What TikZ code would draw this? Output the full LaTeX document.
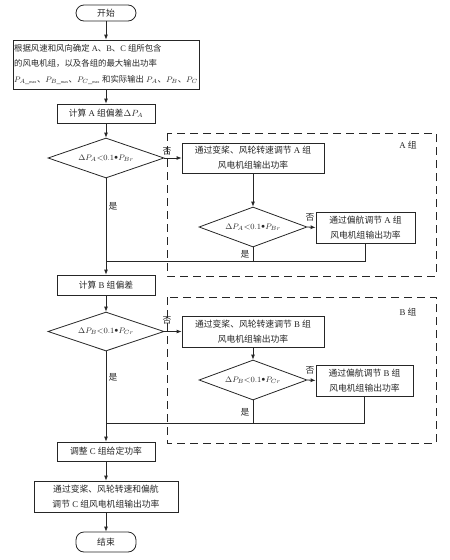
\documentclass[tikz,border=0pt]{standalone}
\usepackage{fontspec}
\setmainfont{Liberation Serif}
\newfontfamily\cjk{Noto Sans CJK SC}
\usetikzlibrary{shapes.geometric,arrows.meta}
\newcommand\zh[1]{{\cjk #1}}
\newcommand\mx{\scriptscriptstyle\_\mathrm{max}}
\begin{document}
\begin{tikzpicture}[x=1pt,y=-1pt,
  every node/.style={font=\fontsize{8.8}{15}\selectfont, text=black!85},
  box/.style={draw=black!85, line width=0.8pt, inner sep=1pt, align=center},
  term/.style={box, rounded corners=8pt},
  dec/.style={draw=black!85, line width=0.8pt, diamond, inner sep=0pt, aspect=2.8, font=\fontsize{8.3}{10}\selectfont},
  lbl/.style={inner sep=0pt},
  con/.style={draw=black!85, line width=0.8pt},
  arr/.style={con, -{Latex[length=5pt,width=4pt]}},
  grp/.style={draw=black!85, line width=0.8pt, dash pattern=on 8pt off 5pt}]
\useasboundingbox (0,0) rectangle (450,560);
% groups
\draw[grp] (167,133) rectangle (436,276);
\draw[grp] (167,297) rectangle (436,443);
\node[lbl] (ga) at (408,145) {A \zh{组}};
\node[lbl] (gb) at (408,312) {B \zh{组}};
% main column
\node[term, minimum width=60pt, minimum height=16pt] (start) at (106,13) {\zh{开始}};
\node[box, minimum width=186pt, minimum height=49pt, align=left, inner xsep=0pt, font=\fontsize{8.4}{15.5}\selectfont] (b1) at (106,64.5)
 {\zh{根据风速和风向确定} A\zh{、}B\zh{、}C \zh{组所包含}\\
  \zh{的风电机组，以及各组的最大输出功率}\\
  $P_{A\mx}$\zh{、}$P_{B\mx}$\zh{、}$P_{C\mx}$ \zh{和实际输出} $P_A$\zh{、}$P_B$\zh{、}$P_C$};
\node[box, minimum width=98pt, minimum height=19pt] (ca) at (106,113.5) {\zh{计算} A \zh{组偏差}$\Delta P_A$};
\node[dec, minimum width=116pt, minimum height=40pt] (d1) at (106,158) {$\Delta P_A{<}0.1\raisebox{0.2ex}{\scriptsize$\bullet$}P_{Br}$};
\node[box, minimum width=142pt, minimum height=30pt] (a1) at (253,158) {\zh{通过变桨、风轮转速调节} A \zh{组}\\\zh{风电机组输出功率}};
\node[dec, minimum width=108pt, minimum height=40pt] (a2) at (253,227) {$\Delta P_A{<}0.1\raisebox{0.2ex}{\scriptsize$\bullet$}P_{Br}$};
\node[box, minimum width=99pt, minimum height=31pt] (a3) at (365.5,227.5) {\zh{通过偏航调节} A \zh{组}\\\zh{风电机组输出功率}};
\coordinate (ma) at (106,261);
\node[box, minimum width=98pt, minimum height=20pt] (cb) at (106,285) {\zh{计算} B \zh{组偏差}};
\node[dec, minimum width=116pt, minimum height=39pt] (d2) at (106,331.5) {$\Delta P_B{<}0.1\raisebox{0.2ex}{\scriptsize$\bullet$}P_{Cr}$};
\node[box, minimum width=142pt, minimum height=31pt] (b1g) at (253,331.5) {\zh{通过变桨、风轮转速调节} B \zh{组}\\\zh{风电机组输出功率}};
\node[dec, minimum width=108pt, minimum height=40pt] (b2) at (253,380) {$\Delta P_B{<}0.1\raisebox{0.2ex}{\scriptsize$\bullet$}P_{Cr}$};
\node[box, minimum width=97pt, minimum height=31pt] (b3) at (364.5,380.5) {\zh{通过偏航调节} B \zh{组}\\\zh{风电机组输出功率}};
\coordinate (mb) at (106,423);
\node[box, minimum width=98pt, minimum height=19pt] (cc) at (106,451.5) {\zh{调整} C \zh{组给定功率}};
\node[box, minimum width=144pt, minimum height=31pt] (c2) at (106,496.5) {\zh{通过变桨、风轮转速和偏航}\\\zh{调节} C \zh{组风电机组输出功率}};
\node[term, minimum width=60pt, minimum height=20pt] (end) at (106,542) {\zh{结束}};
% connectors
\draw[arr] (start) -- (b1);
\draw[arr] (b1) -- (ca);
\draw[arr] (ca) -- (d1);
\draw[arr] (d1.east) -- (a1.west);
\draw[arr] (a1) -- (a2);
\draw[arr] (a2.east) -- (a3.west);
\draw[arr] (d1.south) -- (cb.north);
\draw[con] (a2.south) -- (a2.south |- ma);
\draw[con] (a3.south) |- (ma);
\draw[arr] (cb) -- (d2);
\draw[arr] (d2.east) -- (b1g.west);
\draw[arr] (b1g) -- (b2);
\draw[arr] (b2.east) -- (b3.west);
\draw[arr] (d2.south) -- (cc.north);
\draw[con] (b2.south) -- (b2.south |- mb);
\draw[con] (b3.south) |- (mb);
\draw[arr] (cc) -- (c2);
\draw[arr] (c2) -- (end);
% labels
\node[lbl] (n1) at (167,151) {\zh{否}};
\node[lbl] (y1) at (113,206) {\zh{是}};
\node[lbl] (n2) at (310,217) {\zh{否}};
\node[lbl] (y2) at (245,254) {\zh{是}};
\node[lbl] (n3) at (167,320) {\zh{否}};
\node[lbl] (y3) at (113,377) {\zh{是}};
\node[lbl] (n4) at (310,370) {\zh{否}};
\node[lbl] (y4) at (245,412) {\zh{是}};
\end{tikzpicture}
\end{document}
